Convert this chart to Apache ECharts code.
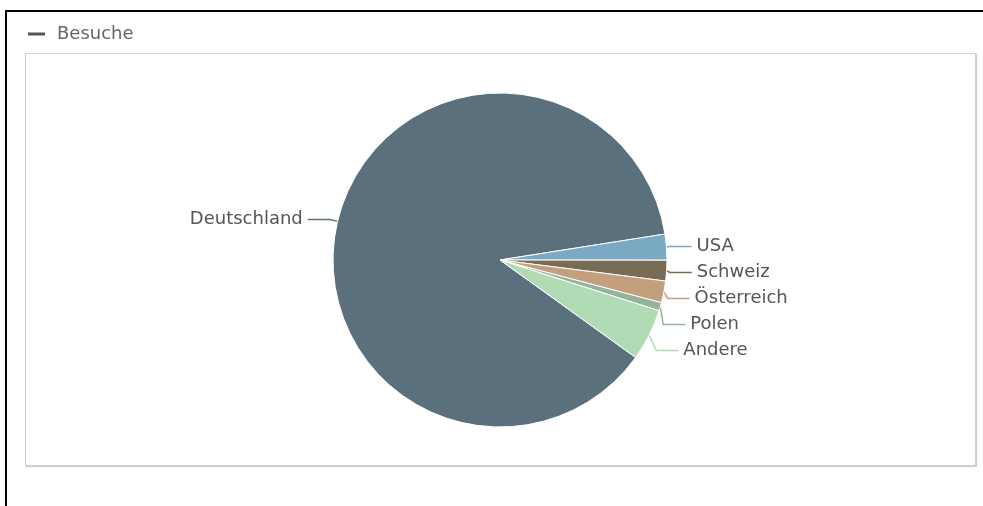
<!DOCTYPE html>
<html lang="de">
<head>
  <meta charset="UTF-8">
  <title>Besuche</title>
  <style>
    html, body { margin: 0; padding: 0; width: 983px; height: 506px; overflow: hidden; background: #fff; }
    #frame { position: absolute; left: 5px; top: 10px; width: 1200px; height: 800px; border-top: 2px solid #000; border-left: 2px solid #000; }
    #panel { position: absolute; left: 25px; top: 53px; width: 949px; height: 411px; border: 1px solid #d0d0d0; box-shadow: 1px 1px 1px #cfcfcf; }
    #main { position: absolute; left: 0; top: 0; width: 983px; height: 506px; }
  </style>
</head>
<body>
  <div id="frame"></div>
  <div id="panel"></div>
  <div id="main"></div>
  <script src="https://cdn.jsdelivr.net/npm/echarts@6/dist/echarts.min.js"></script>
  <script>
    // Besuche nach Land (Anteile aus dem Bild geschätzt)
    var seriesName = 'Besuche';
    var countries = ['Deutschland', 'USA', 'Schweiz', 'Österreich', 'Polen', 'Andere'];
    var visits = [876, 25, 20, 21, 8, 50];
    var colors = ['#5a707d', '#7aaac3', '#7a6b55', '#c49f7e', '#93b39a', '#b1dbb4'];

    var chart = echarts.init(document.getElementById('main'));

    var pieData = countries.map(function (name, i) {
      return { name: name, value: visits[i], itemStyle: { color: colors[i] } };
    });

    var option = {
      animation: false,
      textStyle: { fontFamily: 'DejaVu Sans' },
      legend: {
        left: 26,
        top: 25,
        padding: 0,
        icon: 'roundRect',
        itemWidth: 19,
        itemHeight: 5,
        selectedMode: false,
        data: [{ name: seriesName, itemStyle: { color: '#555' } }],
        textStyle: { color: '#666', fontSize: 18, fontFamily: 'DejaVu Sans', padding: [0, 0, 0, 6] }
      },
      series: [
        {
          name: seriesName,
          type: 'pie',
          center: [500, 260],
          radius: 167,
          startAngle: -35.7,
          clockwise: true,
          itemStyle: { borderColor: '#fff', borderWidth: 1 },
          label: {
            color: '#555',
            fontSize: 18,
            lineHeight: 24,
            fontFamily: 'DejaVu Sans'
          },
          labelLine: {
            length: 8,
            length2: 22,
            lineStyle: { width: 1.5 }
          },
          emphasis: { scale: false },
          data: pieData
        }
      ]
    };

    chart.setOption(option);
  </script>
</body>
</html>
